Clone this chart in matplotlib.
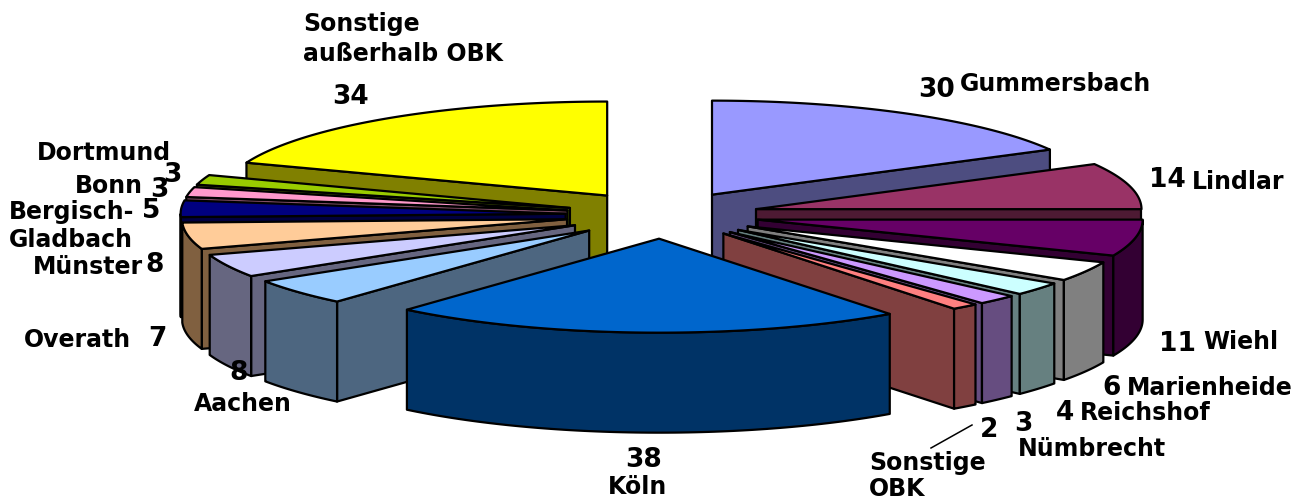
import numpy as np
import matplotlib
matplotlib.use("Agg")
import matplotlib.pyplot as plt
from matplotlib.patches import Polygon

# clockwise from 12 o'clock
NAMES = ["Gummersbach", "Lindlar", "Wiehl", "Marienheide", "Reichshof", "Nümbrecht",
         "Sonstige OBK", "Köln", "Aachen", "Overath", "Münster", "Bergisch-Gladbach",
         "Bonn", "Dortmund", "Sonstige außerhalb OBK"]
VALUES = [30, 14, 11, 6, 4, 3, 2, 38, 8, 7, 8, 5, 3, 3, 34]
TOP_COLORS = ["#9999ff", "#993366", "#660066", "#ffffff", "#ccffff", "#cc99ff",
              "#ff8080", "#0066cc", "#99ccff", "#ccccff", "#ffcc99", "#000080",
              "#ff99cc", "#99cc00", "#ffff00"]
SIDE_COLORS = ["#4d4d80", "#4d1a33", "#330033", "#808080", "#668080", "#664d80",
               "#804040", "#003366", "#4d6680", "#666680", "#806040", "#000040",
               "#804d66", "#4d6600", "#808000"]

# name label: text, x, y, ha, line spacing
NAME_LABELS = [
    ("Gummersbach", 960, 84, "left", 1.2), ("Lindlar", 1192, 182, "left", 1.2),
    ("Wiehl", 1203, 342, "left", 1.2), ("Marienheide", 1127, 388, "left", 1.2),
    ("Reichshof", 1080, 413, "left", 1.2), ("Nümbrecht", 1018, 449, "left", 1.2),
    ("Sonstige\nOBK", 869, 476, "left", 1.15), ("Köln", 638, 487, "center", 1.2),
    ("Aachen", 243, 404, "center", 1.2), ("Overath", 131, 340, "right", 1.2),
    ("Münster", 143, 267, "right", 1.2), ("Bergisch-\nGladbach", 9, 226, "left", 1.2),
    ("Bonn", 143, 186, "right", 1.2), ("Dortmund", 171, 153, "right", 1.2),
    ("Sonstige\naußerhalb OBK", 303, 39, "left", 1.27),
]
# value label positions line up with VALUES
VALUE_POS = [(937, 90), (1167, 180), (1178, 344), (1112, 388), (1065, 413), (1023, 424),
             (989, 430), (644, 460), (239, 373), (157, 339), (155, 265), (151, 211),
             (159, 190), (172, 175), (351, 97)]

CX, CY = 662.5, 215
RX, RY = 385, 94
EXPLODE = 97
DEPTH = 100
LW = 1.6
FS_NAME = 17
FS_VALUE = 19


def rim(apex, t):
    """Point on the rim of a slice, t in radians clockwise from top."""
    return apex[0] + RX * np.sin(t), apex[1] - RY * np.cos(t)


def draw_slice(ax, start, end, top_c, side_c):
    mid = (start + end) / 2
    apex = (CX + EXPLODE * np.sin(mid), CY - EXPLODE * RY / RX * np.cos(mid))
    ts = np.linspace(start, end, 80)
    xs, ys = rim(apex, ts)
    kw = dict(edgecolor="black", linewidth=LW, joinstyle="round")

    # radial walls
    if np.sin(end) > 0:
        ex, ey = rim(apex, end)
        ax.add_patch(Polygon([apex, (ex, ey), (ex, ey + DEPTH), (apex[0], apex[1] + DEPTH)],
                             facecolor=side_c, **kw))
    if np.sin(start) < 0:
        ex, ey = rim(apex, start)
        ax.add_patch(Polygon([apex, (ex, ey), (ex, ey + DEPTH), (apex[0], apex[1] + DEPTH)],
                             facecolor=side_c, **kw))
    # outer wall, front half only
    front = np.cos(ts) < 0
    if front.any():
        fx, fy = xs[front], ys[front]
        pts = list(zip(fx, fy)) + list(zip(fx[::-1], fy[::-1] + DEPTH))
        ax.add_patch(Polygon(pts, facecolor=side_c, **kw))
    # top
    ax.add_patch(Polygon([apex] + list(zip(xs, ys)), facecolor=top_c, **kw))


fig = plt.figure(figsize=(13.05, 5), dpi=100)
ax = fig.add_axes([0, 0, 1, 1])
ax.set_xlim(0, 1305)
ax.set_ylim(500, 0)
ax.axis("off")

edges = np.deg2rad(np.concatenate([[0], np.cumsum(VALUES)]) / sum(VALUES) * 360)
mids = (edges[:-1] + edges[1:]) / 2
# back slices first
for i in np.argsort(-np.cos(mids)):
    draw_slice(ax, edges[i], edges[i + 1], TOP_COLORS[i], SIDE_COLORS[i])

for text, x, y, ha, spacing in NAME_LABELS:
    ax.text(x, y, text, ha=ha, va="center", fontsize=FS_NAME, fontweight="bold",
            family="DejaVu Sans", linespacing=spacing)
for v, (x, y) in zip(VALUES, VALUE_POS):
    ax.text(x, y, str(v), ha="center", va="center", fontsize=FS_VALUE, fontweight="bold",
            family="DejaVu Sans")

# leader line for Sonstige OBK
ax.plot([931, 972], [448, 425], color="black", lw=1.1)

fig.savefig("out.png", dpi=100)
